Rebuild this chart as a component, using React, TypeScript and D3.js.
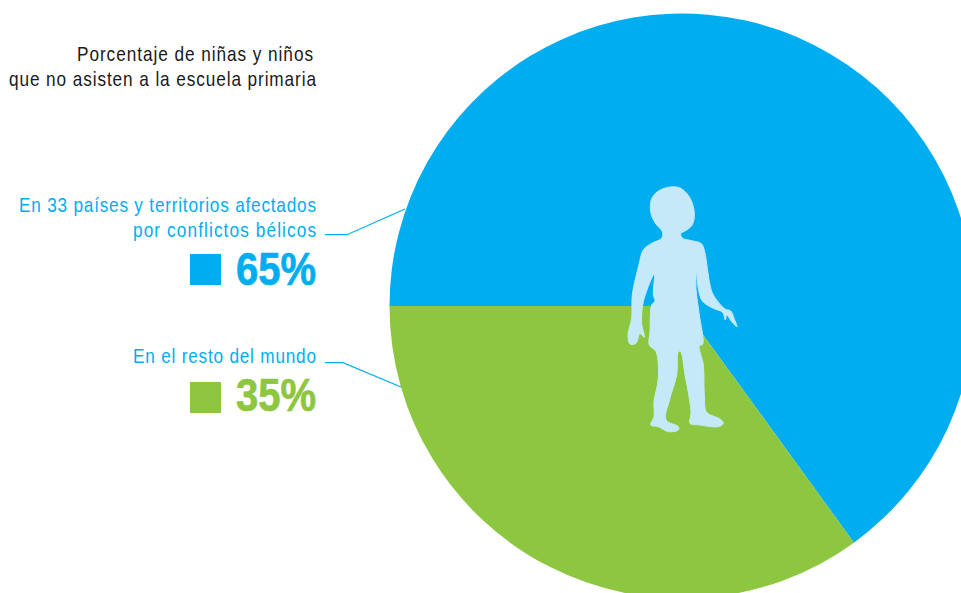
import React from "react";
import * as d3 from "d3";

const categories = ["En 33 países y territorios afectados por conflictos bélicos", "En el resto del mundo"];
const values = [65, 35];
const valueLabels = ["65%", "35%"];
const colors = ["#00AEEF", "#8DC63F"];
const titleLines = ["Porcentaje de niñas y niños", "que no asisten a la escuela primaria"];
const font = "'Liberation Sans', sans-serif";

const silhouette: [number, number][] = [
  [157,170],[135,143],[122,110],[124,75],[140,52],[170,38],[205,37],[230,55],[247,85],[253,125],[245,152],[225,168],[212,176],[218,190],[245,197],[274,206],[284,230],[292,280],[300,330],[310,360],[345,402],[362,408],[372,430],[381,455],[365,440],[350,420],[346,435],[338,412],[310,400],[277,378],[265,340],[260,288],[258,340],[268,420],[278,508],[268,512],[280,570],[283,660],[290,712],[330,732],[340,745],[325,755],[270,750],[240,745],[243,715],[238,670],[225,600],[212,530],[205,530],[200,600],[180,670],[168,735],[205,755],[205,765],[175,770],[145,755],[122,750],[132,725],[132,680],[145,610],[138,530],[118,510],[120,470],[125,390],[135,378],[130,360],[133,297],[100,380],[95,445],[103,487],[90,475],[78,505],[60,507],[54,480],[65,430],[67,360],[88,265],[100,225],[125,205],[155,190],
];

export default function App() {
  const cx = 682, cy = 306, r = 292.5;
  const sx = 0.82;
  const pie = d3.pie<number>().sort(null).startAngle(-Math.PI / 2).endAngle((3 * Math.PI) / 2);
  const arc = d3.arc<d3.PieArcDatum<number>>().innerRadius(0).outerRadius(r);
  const slices = pie(values);
  const person = d3.line().curve(d3.curveCatmullRomClosed.alpha(0.5))(silhouette) ?? "";
  const rightX = 316;
  const big = { fontFamily: font, textAnchor: "end" as const, fontSize: 46, fontWeight: 700, strokeWidth: 0.7 };
  const line = (x0: number, x1: number, y: number, fill: string, text: string) => (
    <text key={text} fontFamily={font} fontSize={21} fill={fill}
      textLength={(x1 - x0) / sx} lengthAdjust="spacing"
      transform={`translate(${x0},${y}) scale(${sx},1)`}>{text}</text>
  );
  return (
    <svg width={961} height={593} viewBox="0 0 961 593" style={{ position: "absolute", left: 0, top: 0, display: "block", background: "#fff" }}>
      <g transform={`translate(${cx},${cy})`}>
        {slices.map((s, i) => <path key={i} d={arc(s) ?? ""} fill={colors[i]} />)}
      </g>
      <path d={person} transform="translate(610,175) scale(0.3333)" fill="#C6E9FA" stroke="#C6E9FA" strokeWidth={3} strokeLinejoin="round" />
      {line(77, 313, 61, "#1a1a1a", titleLines[0])}
      {line(9, 316, 86, "#1a1a1a", titleLines[1])}
      {line(19, 316, 212, colors[0], "En 33 países y territorios afectados")}
      {line(133, 316, 237, colors[0], "por conflictos bélicos")}
      {line(133, 316, 363, colors[0], categories[1])}
      <text {...big} fill={colors[0]} stroke={colors[0]} transform={`translate(${rightX},285) scale(0.87,1)`}>{valueLabels[0]}</text>
      <text {...big} fill={colors[1]} stroke={colors[1]} transform={`translate(${rightX},411) scale(0.87,1)`}>{valueLabels[1]}</text>
      <rect x={190} y={254} width={31} height={31} fill={colors[0]} />
      <rect x={190} y={382} width={31} height={31} fill={colors[1]} />
      <polyline points="325,234.7 347,234.7 405,209" fill="none" stroke={colors[0]} strokeWidth={1.2} />
      <polyline points="325,362.7 343,362.7 401,387" fill="none" stroke={colors[0]} strokeWidth={1.2} />
    </svg>
  );
}
